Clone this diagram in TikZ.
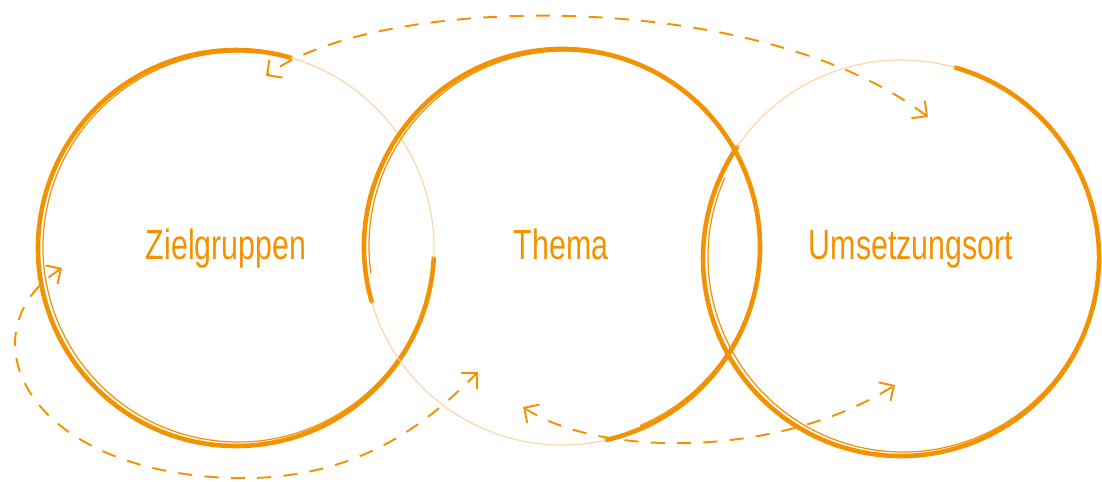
\documentclass[tikz,border=0pt]{standalone}
\usepackage{fontspec}
\setmainfont{Liberation Sans}
\usepackage{graphicx}
\usetikzlibrary{arrows.meta,positioning}
\definecolor{brushorange}{HTML}{F39200}

\begin{document}
\begin{tikzpicture}[x=0.02cm, y=-0.02cm,
    every node/.style={font=\fontsize{24}{28}\selectfont, text=brushorange},
    ringline/.style={draw=brushorange, line width=2.6pt, line cap=round},
    ringsketch/.style={draw=brushorange, line width=0.7pt},
    ringfade/.style={draw=brushorange!40, line width=0.6pt},
    flowline/.style={draw=brushorange, line width=1.1pt, dash pattern=on 8pt off 7pt,
        {Straight Barb[length=2.2mm,width=4.4mm]}-{Straight Barb[length=2.2mm,width=4.4mm]}}]
    \useasboundingbox (0,0) rectangle (1102,481);

    % Rings (centre x/y, faded arc from \fa to \fb)
    \foreach \cx/\cy/\fa/\fb in {236/248/-74/3, 562/247/77/164, 901/258/214/286} {
        \draw[ringline] (\cx,\cy) ++(\fb:198) arc[start angle=\fb, end angle=\fa+360, radius=198];
        \draw[ringsketch] (\cx+2,\cy-1) ++(\fb+8:195) arc[start angle=\fb+8, end angle=\fa+350, radius=195];
        \draw[ringfade] (\cx,\cy) ++(\fa:198) arc[start angle=\fa, end angle=\fb, radius=198];
    }

    % Labels
    \node[anchor=base] (zg) at (226,259) {\scalebox{0.72}[1]{Zielgruppen}};
    \node[anchor=base] (th) at (561,259) {\scalebox{0.72}[1]{Thema}};
    \node[anchor=base] (us) at (911,259) {\scalebox{0.72}[1]{Umsetzungsort}};

    % Dashed loops
    \coordinate (topA) at (928,117);
    \coordinate (topB) at (266,76);
    \draw[flowline] (topA) .. controls (760,-12) and (380,-8) .. (topB);

    \coordinate (leftA) at (62,268);
    \coordinate (leftB) at (478,372);
    \draw[flowline] (leftA) .. controls (-35,330) and (20,470) .. (230,478)
        .. controls (360,482) and (430,420) .. (leftB);

    \coordinate (rightA) at (523,407);
    \coordinate (rightB) at (895,385);
    \draw[flowline] (rightA) .. controls (600,458) and (780,458) .. (rightB);
\end{tikzpicture}
\end{document}
